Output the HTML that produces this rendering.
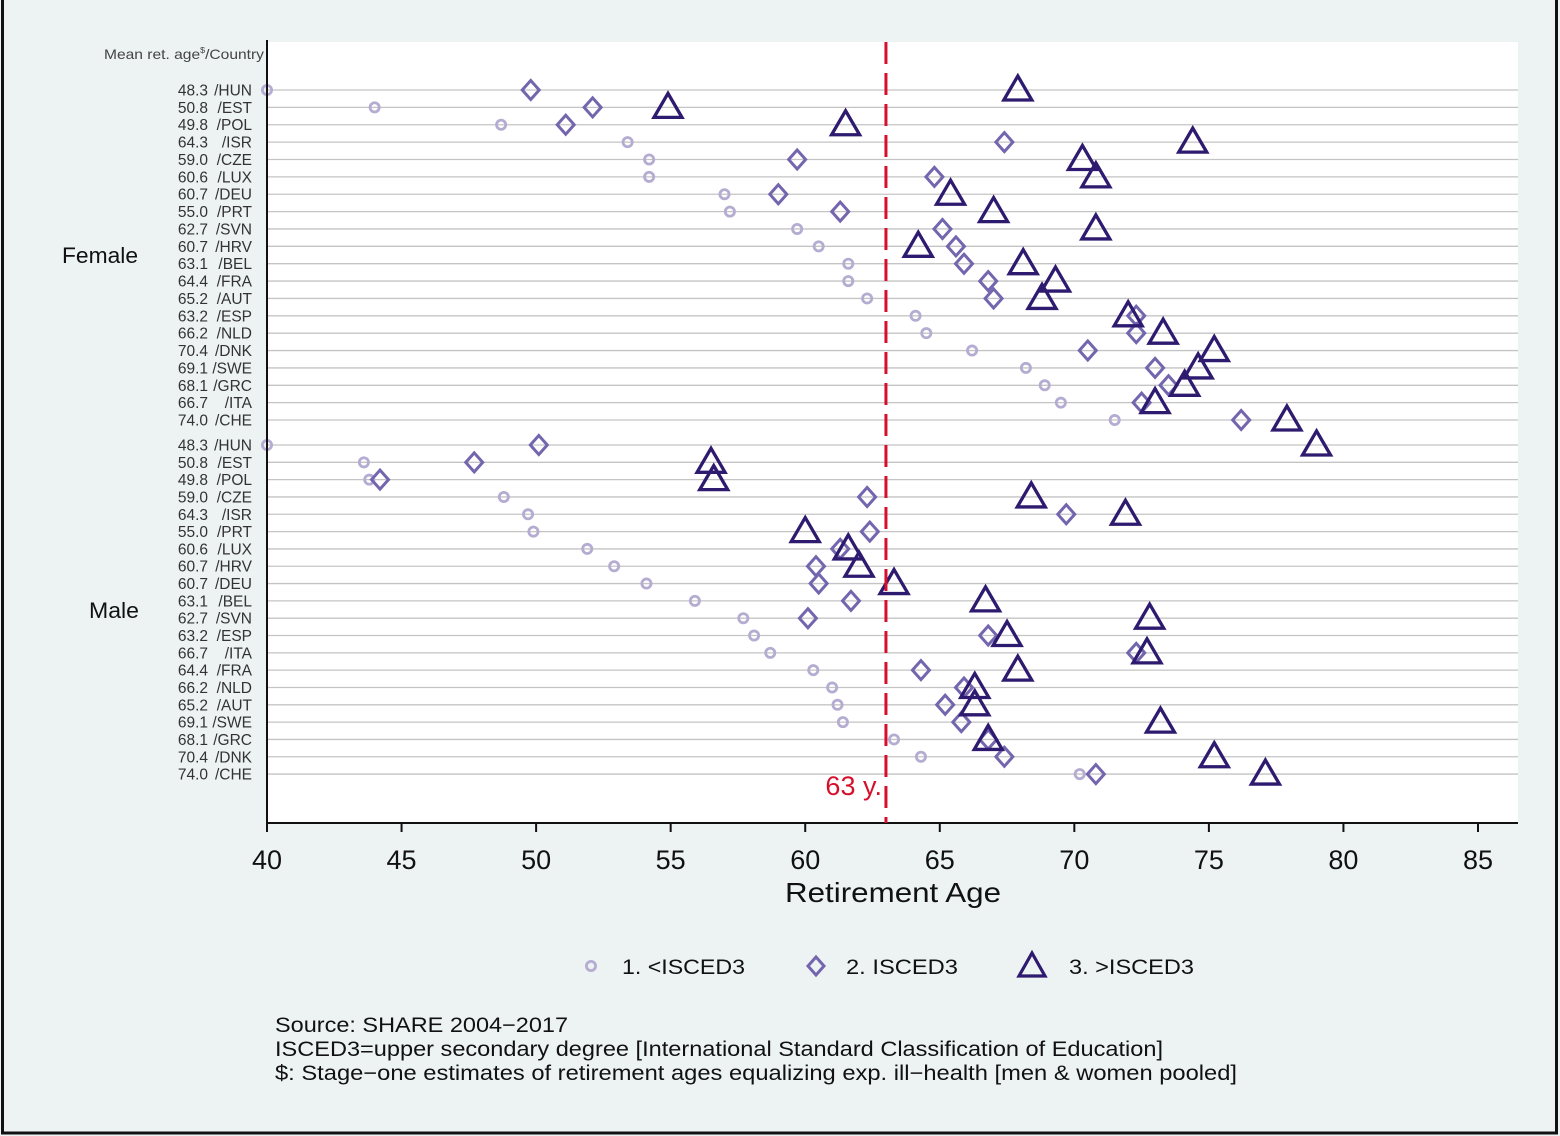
<!DOCTYPE html>
<html><head><meta charset="utf-8"><style>
html,body{margin:0;padding:0;background:#edf3f3;}
svg{display:block;font-family:"Liberation Sans",sans-serif;}
</style></head><body>
<svg id="chart" width="1560" height="1136" viewBox="0 0 1560 1136" xmlns="http://www.w3.org/2000/svg">
<rect x="0" y="0" width="1560" height="1136" fill="#edf3f3"/>
<rect x="2.5" y="-2" width="1554" height="1135" fill="none" stroke="#111" stroke-width="3"/>
<rect x="267" y="42" width="1251" height="781" fill="#ffffff"/>
<g id="grid"></g>
<g id="marks"></g>
<g id="labels"></g>
<line x1="267" y1="40" x2="267" y2="823" stroke="#111" stroke-width="2"/>
<line x1="267" y1="823" x2="1518" y2="823" stroke="#111" stroke-width="2"/>
<g id="xticks"></g>
<text x="785" y="902" font-size="28" textLength="216" lengthAdjust="spacingAndGlyphs" fill="#111">Retirement Age</text>
<text x="104" y="59" font-size="14" textLength="160" lengthAdjust="spacingAndGlyphs" fill="#444">Mean ret. age<tspan font-size="8" dy="-6">$</tspan><tspan dy="6">/Country</tspan></text>
<text x="62" y="263" font-size="22" textLength="76" lengthAdjust="spacingAndGlyphs" fill="#111">Female</text>
<text x="89" y="618" font-size="22" textLength="50" lengthAdjust="spacingAndGlyphs" fill="#111">Male</text>
<g id="refline"></g>
<g>
<circle cx="591" cy="966" r="4.6" fill="none" stroke="#b5acd2" stroke-width="2.8"/>
<text x="622" y="974" font-size="21" textLength="123" lengthAdjust="spacingAndGlyphs" fill="#111">1. &lt;ISCED3</text>
<path d="M816,957 L824,966 L816,975 L808,966 Z" fill="none" stroke="#7466ae" stroke-width="3"/>
<text x="846" y="974" font-size="21" textLength="112" lengthAdjust="spacingAndGlyphs" fill="#111">2. ISCED3</text>
<path d="M1032,953 L1045,976 L1019,976 Z" fill="none" stroke="#2e1a6e" stroke-width="3.2"/>
<text x="1069" y="974" font-size="21" textLength="125" lengthAdjust="spacingAndGlyphs" fill="#111">3. &gt;ISCED3</text>
</g>
<g font-size="21" fill="#111">
<text x="275" y="1032" textLength="293" lengthAdjust="spacingAndGlyphs">Source: SHARE 2004−2017</text>
<text x="275" y="1056" textLength="888" lengthAdjust="spacingAndGlyphs">ISCED3=upper secondary degree [International Standard Classification of Education]</text>
<text x="275" y="1080" textLength="962" lengthAdjust="spacingAndGlyphs">$: Stage−one estimates of retirement ages  equalizing exp. ill−health [men &amp; women pooled]</text>
</g>
</svg>
<script>
const femaleLabels = ["48.3|HUN","50.8|EST","49.8|POL","64.3|ISR","59.0|CZE","60.6|LUX","60.7|DEU","55.0|PRT","62.7|SVN","60.7|HRV","63.1|BEL","64.4|FRA","65.2|AUT","63.2|ESP","66.2|NLD","70.4|DNK","69.1|SWE","68.1|GRC","66.7|ITA","74.0|CHE"];
const femaleLow  = [40.0,44.0,48.7,53.4,54.2,54.2,57.0,57.2,59.7,60.5,61.6,61.6,62.3,64.1,64.5,66.2,68.2,68.9,69.5,71.5];
const femaleMid  = [49.8,52.1,51.1,67.4,59.7,64.8,59.0,61.3,65.1,65.6,65.9,66.8,67.0,72.3,72.3,70.5,73.0,73.5,72.5,76.2];
const femaleHigh = [67.9,54.9,61.5,74.4,70.3,70.8,65.4,67.0,70.8,64.2,68.1,69.3,68.8,72.0,73.3,75.2,74.6,74.1,73.0,77.9];
const maleLabels = ["48.3|HUN","50.8|EST","49.8|POL","59.0|CZE","64.3|ISR","55.0|PRT","60.6|LUX","60.7|HRV","60.7|DEU","63.1|BEL","62.7|SVN","63.2|ESP","66.7|ITA","64.4|FRA","66.2|NLD","65.2|AUT","69.1|SWE","68.1|GRC","70.4|DNK","74.0|CHE"];
const maleLow  = [40.0,43.6,43.8,48.8,49.7,49.9,51.9,52.9,54.1,55.9,57.7,58.1,58.7,60.3,61.0,61.2,61.4,63.3,64.3,70.2];
const maleMid  = [50.1,47.7,44.2,62.3,69.7,62.4,61.3,60.4,60.5,61.7,60.1,66.8,72.3,64.3,65.9,65.2,65.8,66.8,67.4,70.8];
const maleHigh = [79.0,56.5,56.6,68.4,71.9,60.0,61.6,62.0,63.3,66.7,72.8,67.5,72.7,67.9,66.3,66.3,73.2,66.8,75.2,77.1];
const xTicks = [40,45,50,55,60,65,70,75,80,85];
const refValue = 63;

const NS = "http://www.w3.org/2000/svg";
const x = v => 267 + (v - 40) * (1211 / 45);
const yF = i => 90 + i * 17.37;
const yM = i => 445 + i * 17.32;
function mk(tag, attrs, parent){ const e=document.createElementNS(NS,tag); for(const k in attrs) e.setAttribute(k,attrs[k]); parent.appendChild(e); return e; }
const grid=document.getElementById('grid'), marks=document.getElementById('marks'), labels=document.getElementById('labels');

function group(lbls, low, mid, high, yf, prefix){
  lbls.forEach((l,i)=>{
    const y=yf(i);
    const g=mk('line',{x1:267,y1:y,x2:1518,y2:y,stroke:'#c4c4c4','stroke-width':1.3},grid);
    
    
    const [num,c]=l.split('|');
    const t1=mk('text',{x:208,y:y+5.5,'font-size':15.5,'text-anchor':'end',fill:'#333'},labels);
    t1.textContent=num;
    
    
    const t2=mk('text',{x:252,y:y+5.5,'font-size':15.5,'text-anchor':'end',fill:'#333'},labels);
    t2.textContent='/'+c;
    
    
  });
  low.forEach((v,i)=>{
    const e=mk('circle',{cx:x(v),cy:yf(i),r:4.6,fill:'none',stroke:'#b5acd2','stroke-width':2.8},marks);
    
    
  });
  mid.forEach((v,i)=>{
    const cx=x(v), cy=yf(i);
    const e=mk('path',{d:`M${cx},${cy-9.5} L${cx+8.5},${cy} L${cx},${cy+9.5} L${cx-8.5},${cy} Z`,fill:'none',stroke:'#7466ae','stroke-width':3},marks);
    
    
  });
  high.forEach((v,i)=>{
    const cx=x(v), cy=yf(i);
    const e=mk('path',{d:`M${cx},${cy-14} L${cx+14},${cy+10} L${cx-14},${cy+10} Z`,fill:'none',stroke:'#2e1a6e','stroke-width':3.3,'stroke-linejoin':'miter'},marks);
    
    
  });
}
group(femaleLabels,femaleLow,femaleMid,femaleHigh,yF,'female');
group(maleLabels,maleLow,maleMid,maleHigh,yM,'male');

const xt=document.getElementById('xticks');
xTicks.forEach(v=>{
  const l=mk('line',{x1:x(v),y1:823,x2:x(v),y2:832,stroke:'#111','stroke-width':2},xt);
  
  
  const t=mk('text',{x:x(v),y:869,'font-size':27,'text-anchor':'middle',fill:'#111'},xt);
  t.textContent=v;
  
  
});
const rl=document.getElementById('refline');
const line=mk('line',{x1:x(refValue),y1:42,x2:x(refValue),y2:823,stroke:'#d6102c','stroke-width':3,'stroke-dasharray':'22 9'},rl);


const rt=mk('text',{x:x(refValue)-4,y:795,'font-size':27,'text-anchor':'end',fill:'#d6102c'},rl);
rt.textContent=refValue+' y.';


</script>
</body></html>
